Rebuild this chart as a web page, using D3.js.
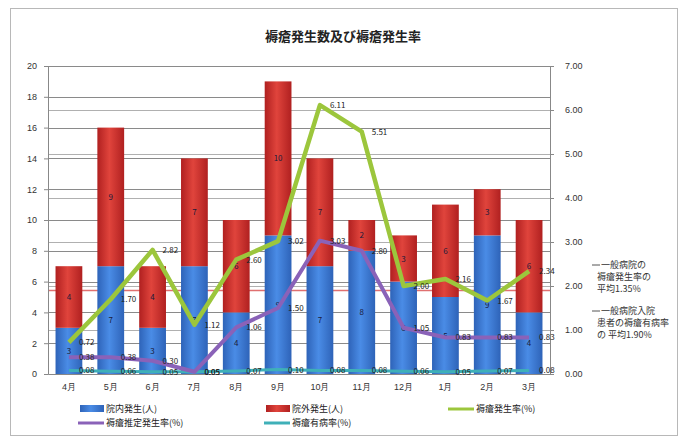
<!DOCTYPE html>
<html><head><meta charset="utf-8">
<script src="https://cdn.jsdelivr.net/npm/d3@7"></script>
<style>body{margin:0;background:#fff;}svg{display:block;font-family:"Noto Sans CJK JP","Noto Sans",sans-serif;}</style>
</head><body><svg id="c" width="681" height="440"></svg>
<script>
const title = "褥瘡発生数及び褥瘡発生率";
const months = ["4月","5月","6月","7月","8月","9月","10月","11月","12月","1月","2月","3月"];
const inHospital = [3,7,3,7,4,9,7,8,6,5,9,4];
const outHospital = [4,9,4,7,6,10,7,2,3,6,3,6];
const incidenceRate = [0.72,1.70,2.82,1.12,2.60,3.02,6.11,5.51,2.00,2.16,1.67,2.34];
const estimatedRate = [0.38,0.38,0.30,0.05,1.06,1.50,3.03,2.80,1.05,0.83,0.83,0.83];
const prevalenceRate = [0.08,0.06,0.05,0.05,0.07,0.10,0.08,0.08,0.06,0.05,0.07,0.08];
const leftTicks = [0,2,4,6,8,10,12,14,16,18,20];
const rightTicks = [0,1,2,3,4,5,6,7];
const refAverage = 1.90;
const seriesNames = ["院内発生(人)","院外発生(人)","褥瘡発生率(%)","褥瘡推定発生率(%)","褥瘡有病率(%)"];
const note1 = ["一般病院の","褥瘡発生率の","平均1.35%"];
const note2 = ["一般病院入院","患者の褥瘡有病率","の 平均1.90%"];

const svg = d3.select("#c");
const M = {l:48, r:550, t:66, b:374};
const x = d3.scaleBand().domain(months).range([M.l, M.r]).paddingInner(0.36).paddingOuter(0.18);
const yL = d3.scaleLinear().domain([0,20]).range([M.b, M.t]);
const yR = d3.scaleLinear().domain([0,7]).range([M.b, M.t]);

svg.append("rect").attr("x",10.5).attr("y",8.5).attr("width",667).attr("height",427)
  .attr("fill","#fff").attr("stroke","#b8b8b8");

const defs = svg.append("defs");
function grad(id, c1, c2){
  const g = defs.append("linearGradient").attr("id",id).attr("x1","0").attr("x2","1").attr("y1","0").attr("y2","0");
  g.append("stop").attr("offset","0%").attr("stop-color",c2);
  g.append("stop").attr("offset","45%").attr("stop-color",c1);
  g.append("stop").attr("offset","100%").attr("stop-color",c2);
}
grad("gBlue","#4a8ce6","#2e63b8");
grad("gRed","#e0443c","#b02020");

svg.append("text").attr("x",343).attr("y",41).attr("text-anchor","middle")
  .attr("font-size",13).attr("font-weight","bold").attr("fill","#222").text(title);

const g = svg.append("g");
g.selectAll(".gr").data(rightTicks.slice(1,-1)).join("line")
  .attr("x1",M.l).attr("x2",M.r).attr("y1",d=>Math.round(yR(d))+0.5).attr("y2",d=>Math.round(yR(d))+0.5)
  .attr("stroke","#b0b0b0").attr("stroke-width",1.2);
g.selectAll(".gl").data(leftTicks.slice(1)).join("line")
  .attr("x1",M.l).attr("x2",M.r).attr("y1",d=>Math.round(yL(d))+0.5).attr("y2",d=>Math.round(yL(d))+0.5)
  .attr("stroke","#8a8a8a").attr("stroke-width",1.2);
g.append("line").attr("x1",M.l).attr("x2",M.r).attr("y1",yR(refAverage)).attr("y2",yR(refAverage))
  .attr("stroke","#e07070").attr("stroke-width",1.5);

const axL = svg.append("g").attr("transform",`translate(${M.l},0)`)
  .call(d3.axisLeft(yL).tickValues(leftTicks).tickSize(4).tickFormat(d3.format("d")));
const axR = svg.append("g").attr("transform",`translate(${M.r},0)`)
  .call(d3.axisRight(yR).tickValues(rightTicks).tickSize(4).tickFormat(d3.format(".2f")));
const axB = svg.append("g").attr("transform",`translate(0,${M.b})`)
  .call(d3.axisBottom(x).tickSize(0).tickPadding(10));
[axL,axR,axB].forEach(a=>{a.selectAll("path,line").attr("stroke","#888");a.selectAll("text").attr("font-size",9).attr("fill","#333");});
axL.selectAll("text").attr("dx",-4);
axR.selectAll("text").attr("dx",8);

const stackData = months.map((m,i)=>({m, a:inHospital[i], b:outHospital[i]}));
const stack = d3.stack().keys(["a","b"])(stackData);
const fills = ["url(#gBlue)","url(#gRed)"];
stack.forEach((layer,k)=>{
  svg.append("g").selectAll("rect").data(layer).join("rect")
    .attr("x",d=>x(d.data.m)).attr("width",x.bandwidth())
    .attr("y",d=>yL(d[1])).attr("height",d=>yL(d[0])-yL(d[1]))
    .attr("fill",fills[k]);
  svg.append("g").selectAll("text").data(layer).join("text")
    .attr("x",d=>x(d.data.m)+x.bandwidth()/2).attr("y",d=>yL((d[0]+d[1])/2)+3)
    .attr("text-anchor","middle").attr("font-size",8).attr("fill","#1a1a3a")
    .text(d=>d[1]-d[0]);
});

function drawLine(vals, color, w){
  const line = d3.line().x((d,i)=>x(months[i])+x.bandwidth()/2).y(d=>yR(d));
  svg.append("path").datum(vals).attr("d",line).attr("fill","none")
    .attr("stroke",color).attr("stroke-width",w).attr("stroke-linejoin","round");
  svg.append("g").selectAll("text").data(vals).join("text")
    .attr("x",(d,i)=>x(months[i])+x.bandwidth()/2+10).attr("y",d=>yR(d)+3)
    .attr("font-size",8).attr("fill","#222").text(d=>d.toFixed(2));
}
drawLine(prevalenceRate,"#3fb0b8",3);
drawLine(estimatedRate,"#8a62b8",4);
drawLine(incidenceRate,"#9cc63c",4.5);

const lg = svg.append("g").attr("font-size",9).attr("fill","#222");
function legBar(xp,yp,fill,label){
  lg.append("rect").attr("x",xp).attr("y",yp-4).attr("width",24).attr("height",7).attr("fill",fill);
  lg.append("text").attr("x",xp+26).attr("y",yp+3).text(label);
}
function legLine(xp,yp,color,label){
  lg.append("line").attr("x1",xp).attr("x2",xp+26).attr("y1",yp).attr("y2",yp).attr("stroke",color).attr("stroke-width",3);
  lg.append("text").attr("x",xp+28).attr("y",yp+3).text(label);
}
legBar(80,409,"url(#gBlue)",seriesNames[0]);
legBar(266,409,"url(#gRed)",seriesNames[1]);
legLine(448,409,"#9cc63c",seriesNames[2]);
legLine(78,423,"#8a62b8",seriesNames[3]);
legLine(264,423,"#3fb0b8",seriesNames[4]);

const nt = svg.append("g").attr("font-size",9).attr("fill","#333");
nt.append("line").attr("x1",592).attr("x2",600).attr("y1",265).attr("y2",265).attr("stroke","#555");
note1.forEach((t,i)=>nt.append("text").attr("x",i==0?601:597).attr("y",268+i*12).text(t));
nt.append("line").attr("x1",592).attr("x2",600).attr("y1",311).attr("y2",311).attr("stroke","#555");
note2.forEach((t,i)=>nt.append("text").attr("x",i==0?601:597).attr("y",314+i*12).text(t));
</script></body></html>
